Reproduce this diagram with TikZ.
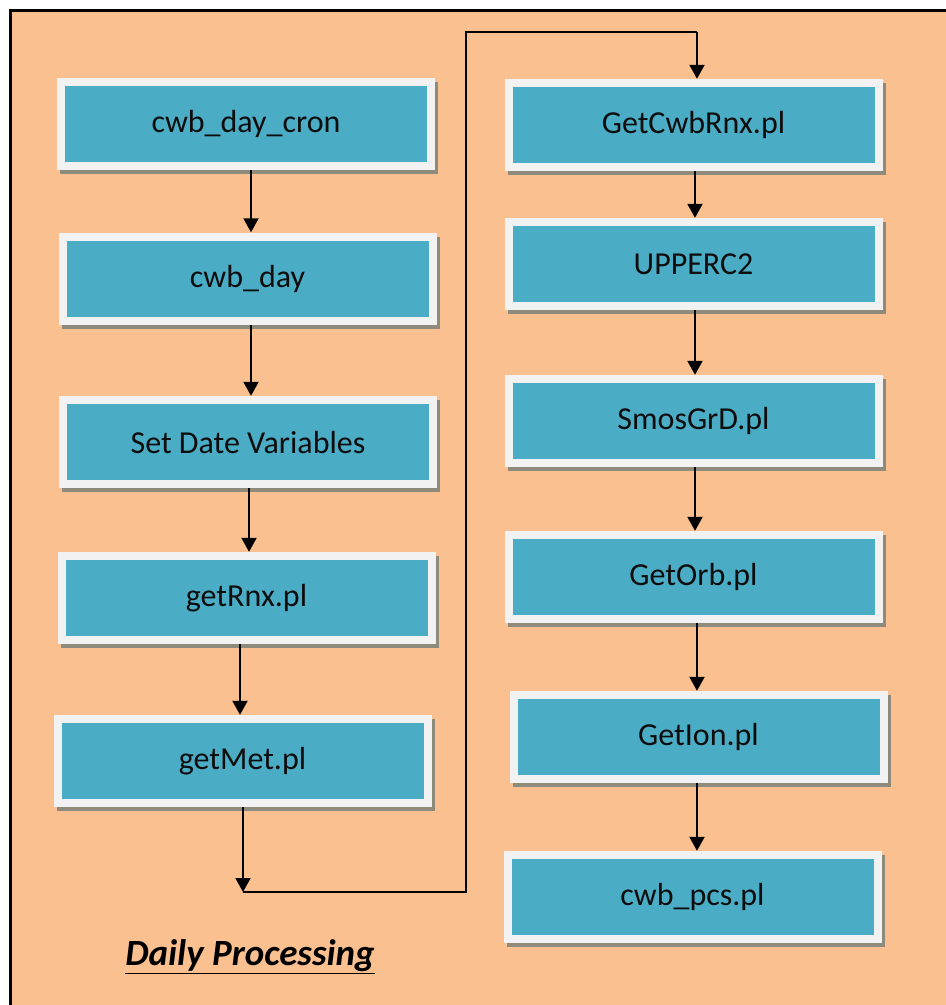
\documentclass[tikz,border=0pt]{standalone}
\usepackage{fontspec}
\setmainfont{Carlito}
\usetikzlibrary{arrows.meta,shadows,calc}

\definecolor{peach}{HTML}{FAC090}
\definecolor{boxblue}{HTML}{4BACC6}
\definecolor{rimwhite}{HTML}{F2F2F2}
\definecolor{shadowgray}{HTML}{8E8B7D}
\definecolor{inktext}{HTML}{0D0D0D}

\tikzset{
  procbox/.style={
    rectangle, inner sep=0pt, minimum width=378pt, minimum height=92pt,
    fill=rimwhite, text=inktext,
    font=\fontsize{32}{36}\selectfont,
    drop shadow={shadow xshift=3pt, shadow yshift=-4pt, fill=shadowgray, opacity=1},
    path picture={
      \fill[boxblue]
        ([shift={(8pt,8pt)}]path picture bounding box.south west)
        rectangle
        ([shift={(-8pt,-8pt)}]path picture bounding box.north east);
    }
  },
  flow/.style={line width=2pt, draw=black, -{Triangle[width=15pt,length=14pt]}},
  wire/.style={line width=2pt, draw=black}
}

\begin{document}
\begin{tikzpicture}[x=1pt, y=-1pt]
  \useasboundingbox (0,0) rectangle (946,1005);
  % page and frame
  \fill[white] (0,0) rectangle (946,1005);
  \fill[peach] (10.5,10.5) rectangle (946,1005);
  \draw[line width=3pt] (10.5,1005) -- (10.5,10.5) -- (946,10.5);

  % left column
  \node[procbox] (cron)  at (246,124)   {cwb\_day\_cron};
  \node[procbox] (day)   at (247.5,278.5) {cwb\_day};
  \node[procbox] (dates) at (248,442)   {Set Date Variables};
  \node[procbox] (rnx)   at (246.5,598) {getRnx.pl};
  \node[procbox] (met)   at (242.5,761) {getMet.pl};

  % right column
  \node[procbox] (cwbrnx) at (693.5,125) {GetCwbRnx.pl};
  \node[procbox] (upperc) at (693.5,264) {UPPERC2};
  \node[procbox] (smos)   at (693.5,421) {SmosGrD.pl};
  \node[procbox] (orb)    at (693.5,577) {GetOrb.pl};
  \node[procbox] (ion)    at (698.5,737) {GetIon.pl};
  \node[procbox] (pcs)    at (692.5,897) {cwb\_pcs.pl};

  % title
  \node (title) at (250,957) {\fontsize{37}{41}\selectfont\bfseries\itshape\underline{Daily Processing}};

  % left column connectors
  \draw[flow] ([xshift=5pt]cron.south)  -- ([xshift=5pt]cron.south |- day.north);
  \draw[flow] ([xshift=3.5pt]day.south)  -- ([xshift=3.5pt]day.south |- dates.north);
  \draw[flow] ([xshift=1pt]dates.south) -- ([xshift=1pt]dates.south |- rnx.north);
  \draw[flow] ([xshift=-6.5pt]rnx.south) -- ([xshift=-6.5pt]rnx.south |- met.north);

  % hand-over from the left column to the right column
  \coordinate (turn) at (243,892);
  \coordinate (riser) at (466,892);
  \coordinate (top) at (466,32);
  \draw[flow] ([xshift=0.5pt]met.south) -- (turn);
  \draw[wire] (turn) -- (riser) -- (top) -- ([xshift=3.5pt]cwbrnx.north |- top);
  \draw[flow] ([xshift=3.5pt]cwbrnx.north |- top) -- ([xshift=3.5pt]cwbrnx.north);

  % right column connectors
  \draw[flow] ([xshift=1.5pt]cwbrnx.south) -- ([xshift=1.5pt]cwbrnx.south |- upperc.north);
  \draw[flow] ([xshift=1.5pt]upperc.south) -- ([xshift=1.5pt]upperc.south |- smos.north);
  \draw[flow] ([xshift=1.5pt]smos.south)   -- ([xshift=1.5pt]smos.south |- orb.north);
  \draw[flow] ([xshift=3.5pt]orb.south)    -- ([xshift=3.5pt]orb.south |- ion.north);
  \draw[flow] ([xshift=-1.5pt]ion.south)   -- ([xshift=-1.5pt]ion.south |- pcs.north);
\end{tikzpicture}
\end{document}
